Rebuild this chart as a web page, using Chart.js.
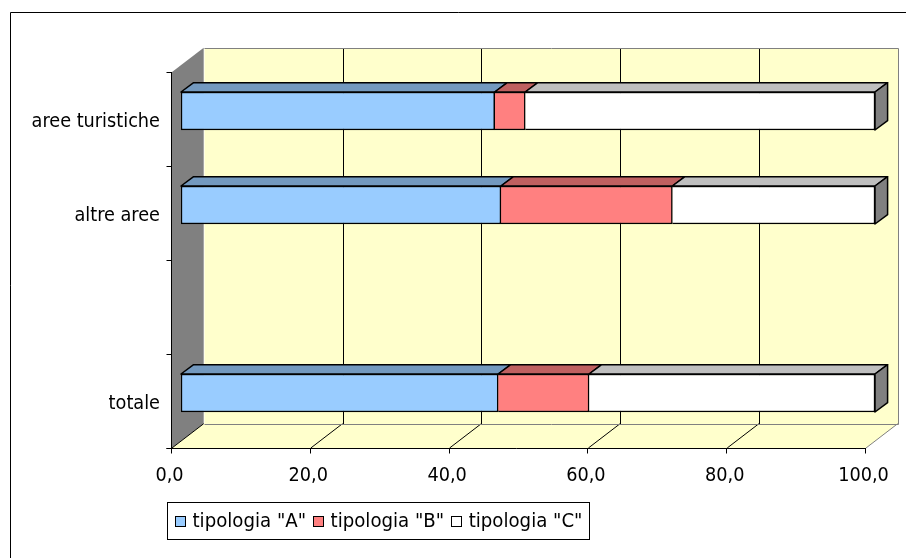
<!DOCTYPE html>
<html lang="it">
<head>
<meta charset="utf-8">
<title>Tipologie per area</title>
<script src="https://cdn.jsdelivr.net/npm/chart.js@4/dist/chart.umd.min.js"></script>
<style>
  html, body { margin: 0; padding: 0; background: #fff; }
  #wrap { position: relative; width: 906px; height: 558px; }
  canvas { display: block; }
</style>
</head>
<body>
<div id="wrap"><canvas id="chart" width="906" height="558"></canvas></div>
<script>
// ---- data ----
const categories = ['aree turistiche', 'altre aree', '', 'totale'];
const tipologiaA = [45.2, 46.1, null, 45.7];
const tipologiaB = [4.4, 24.7, null, 13.1];
const tipologiaC = [50.4, 29.2, null, 41.2];
const seriesLabels = ['tipologia "A"', 'tipologia "B"', 'tipologia "C"'];
const xTickLabels = ['0,0', '20,0', '40,0', '60,0', '80,0', '100,0'];

// ---- look ----
const FONT = "'DejaVu Sans Condensed', 'DejaVu Sans', sans-serif";
const FRONT = { dx: -9, dy: 8 };      // front edge of the floor / side wall, relative to the bar plane
const BACK = { dx: 22.7, dy: -16.3 }; // back wall, relative to the bar plane
const DEPTH = { dx: 12.6, dy: -9.3 }; // thickness of each bar
const palette = [
  { face: '#99CCFF', top: '#7399BF', side: '#4D6680' },
  { face: '#FF8080', top: '#BF6060', side: '#804040' },
  { face: '#FFFFFF', top: '#BFBFBF', side: '#808080' }
];
const WALL = '#FFFFCC';
const WALL_EDGE = '#808080';

function poly(ctx, pts) {
  ctx.beginPath();
  ctx.moveTo(pts[0][0], pts[0][1]);
  for (let i = 1; i < pts.length; i++) ctx.lineTo(pts[i][0], pts[i][1]);
  ctx.closePath();
}
function line(ctx, x1, y1, x2, y2) {
  ctx.beginPath();
  ctx.moveTo(x1, y1);
  ctx.lineTo(x2, y2);
  ctx.stroke();
}

// walls, floor, gridlines and front axes of the 3-D box
const box3d = {
  id: 'box3d',
  beforeDatasetsDraw(chart) {
    const { ctx, chartArea: a, scales: { x, y } } = chart;
    const xa = x.getPixelForValue(x.min), xb = x.getPixelForValue(x.max);
    const T = a.top, B = a.bottom;
    ctx.save();

    // left side wall
    ctx.fillStyle = '#808080';
    poly(ctx, [[xa + FRONT.dx, T + FRONT.dy], [xa + BACK.dx, T + BACK.dy],
               [xa + BACK.dx, B + BACK.dy], [xa + FRONT.dx, B + FRONT.dy]]);
    ctx.fill();

    // floor
    ctx.fillStyle = WALL;
    poly(ctx, [[xa + FRONT.dx, B + FRONT.dy], [xb + FRONT.dx, B + FRONT.dy],
               [xb + BACK.dx, B + BACK.dy], [xa + BACK.dx, B + BACK.dy]]);
    ctx.fill();

    // back wall
    const wx = Math.round(xa + BACK.dx) + 0.5, wr = Math.round(xb + BACK.dx) + 0.5;
    const wt = Math.round(T + BACK.dy) + 0.5, wb = Math.round(B + BACK.dy) + 0.5;
    ctx.fillStyle = WALL;
    ctx.fillRect(wx, wt, wr - wx, wb - wt);

    // gridlines on the back wall and on the floor
    ctx.lineWidth = 1;
    x.ticks.forEach((t, i) => {
      const p = x.getPixelForValue(t.value);
      const last = i === x.ticks.length - 1;
      ctx.strokeStyle = last ? WALL_EDGE : '#000';
      const gx = Math.round(p + BACK.dx) + 0.5;
      if (i > 0) line(ctx, gx, wt, gx, wb);
      line(ctx, p + FRONT.dx, B + FRONT.dy, p + BACK.dx, B + BACK.dy);
    });

    // wall outline
    ctx.strokeStyle = WALL_EDGE;
    line(ctx, wx, wt, wr, wt);
    line(ctx, wx, wb, wr, wb);

    // front category axis with tick marks between slots
    ctx.strokeStyle = '#000';
    const ax = Math.round(xa + FRONT.dx) - 0.5;
    line(ctx, ax, T + FRONT.dy, ax, B + FRONT.dy + 5);
    const n = y.ticks.length, slot = (B - T) / n;
    for (let k = 0; k <= n; k++) {
      const ty = Math.round(T + k * slot + FRONT.dy) + 0.5;
      line(ctx, ax - 5, ty, ax, ty);
    }

    // front value axis with tick marks
    const ay = Math.round(B + FRONT.dy) + 0.5;
    line(ctx, ax - 5, ay, xb + FRONT.dx, ay);
    x.ticks.forEach(t => {
      const tx = Math.round(x.getPixelForValue(t.value) + FRONT.dx) - 0.5;
      line(ctx, tx, ay, tx, ay + 5);
    });
    ctx.restore();
  },

  // top faces of every segment and the end face of each stack
  afterDatasetsDraw(chart) {
    const { ctx } = chart;
    ctx.save();
    ctx.lineWidth = 1.5;
    ctx.strokeStyle = '#000';
    ctx.lineJoin = 'round';
    chart.data.labels.forEach((_, i) => {
      let lastEl = null, lastDs = -1;
      chart.data.datasets.forEach((ds, d) => {
        if (ds.data[i] == null) return;
        const el = chart.getDatasetMeta(d).data[i];
        const { x: xe, base, y: yc, height } = el.getProps(['x', 'base', 'y', 'height'], true);
        const top = yc - height / 2;
        ctx.fillStyle = palette[d].top;
        poly(ctx, [[base, top], [xe, top], [xe + DEPTH.dx, top + DEPTH.dy], [base + DEPTH.dx, top + DEPTH.dy]]);
        ctx.fill();
        ctx.stroke();
        lastEl = { xe, top, height };
        lastDs = d;
      });
      if (lastEl) {
        const { xe, top, height } = lastEl;
        ctx.fillStyle = palette[lastDs].side;
        poly(ctx, [[xe, top], [xe + DEPTH.dx, top + DEPTH.dy],
                   [xe + DEPTH.dx, top + height + DEPTH.dy], [xe, top + height]]);
        ctx.fill();
        ctx.stroke();
      }
    });
    ctx.restore();
  },

  // legend box and outer frame
  afterDraw(chart) {
    const { ctx } = chart;
    ctx.save();
    ctx.strokeStyle = '#000';
    ctx.lineWidth = 1;
    line(ctx, 10.5, 12.5, 906, 12.5);
    line(ctx, 10.5, 12.5, 10.5, 558);

    const bx = 167.5, by = 502.5, bw = 422, bh = 37;
    ctx.strokeRect(bx, by, bw, bh);
    ctx.font = `20.2px ${FONT}`;
    ctx.textBaseline = 'middle';
    ctx.fillStyle = '#000';
    const cy = by + bh / 2;
    let cx = bx + 7.5;
    chart.data.datasets.forEach((ds, d) => {
      ctx.fillStyle = palette[d].face;
      ctx.fillRect(Math.round(cx) + 0.5, Math.round(cy - 5) + 0.5, 10, 10);
      ctx.strokeRect(Math.round(cx) + 0.5, Math.round(cy - 5) + 0.5, 10, 10);
      cx += 17.5;
      ctx.fillStyle = '#000';
      ctx.fillText(ds.label, cx, cy + 1);
      cx += ctx.measureText(ds.label).width + 7;
    });
    ctx.restore();
  }
};

Chart.defaults.font.family = FONT;
Chart.defaults.font.size = 19.7;
Chart.defaults.color = '#000';

const seriesData = [tipologiaA, tipologiaB, tipologiaC];
new Chart(document.getElementById('chart'), {
  type: 'bar',
  data: {
    labels: categories,
    datasets: seriesData.map((vals, d) => ({
      label: seriesLabels[d],
      data: vals,
      backgroundColor: palette[d].face,
      borderColor: '#000',
      borderWidth: 1.5,
      borderSkipped: d === 0 ? false : 'start',
      barThickness: 38
    }))
  },
  options: {
    indexAxis: 'y',
    responsive: false,
    animation: false,
    layout: { padding: { top: 64, right: 31, left: 0, bottom: 0 } },
    plugins: { legend: { display: false }, tooltip: { enabled: false } },
    scales: {
      x: {
        stacked: true,
        min: 0,
        max: 100,
        grid: { display: false },
        border: { display: false },
        ticks: {
          stepSize: 20,
          padding: 16,
          labelOffset: -11.5,
          maxRotation: 0,
          callback: (value, index) => xTickLabels[index]
        },
        afterFit: s => { s.height = 118; s.paddingLeft = 0; s.paddingRight = 0; }
      },
      y: {
        stacked: true,
        grid: { display: false },
        border: { display: false },
        ticks: { padding: 13, labelOffset: 11 },
        afterFit: s => { s.width = 181; s.paddingTop = 0; s.paddingBottom = 0; }
      }
    }
  },
  plugins: [box3d]
});
</script>
</body>
</html>
